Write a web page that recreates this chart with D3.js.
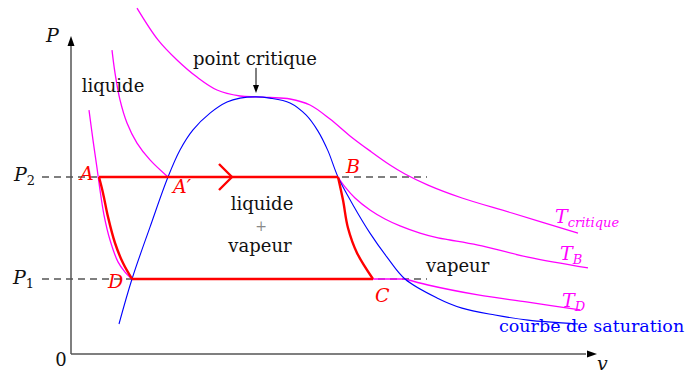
<!DOCTYPE html>
<html>
<head>
<meta charset="utf-8">
<script src="https://cdn.jsdelivr.net/npm/d3@7"></script>
<style>
  body { margin: 0; background: #fff; }
  svg { display: block; }
  text { font-family: "DejaVu Serif", serif; }
  .math { font-style: italic; }
</style>
</head>
<body>
<div id="chart"></div>
<script>
// ── données (v, P) ──
const P1 = 2.5;
const P2 = 5.9;
const critical = [3.70, 8.57];

const saturation = [
  [0.96, 1.00], [1.22, 2.50], [1.58, 4.23], [1.94, 5.90], [2.18, 6.80],
  [2.44, 7.47], [2.78, 8.03], [3.12, 8.40], [3.38, 8.53], [3.70, 8.57],
  [3.98, 8.53], [4.38, 8.37], [4.70, 7.97], [4.94, 7.43], [5.14, 6.77],
  [5.34, 5.90], [5.64, 4.97], [5.98, 4.03], [6.32, 3.23], [6.68, 2.50],
  [7.32, 1.87], [7.82, 1.53], [8.48, 1.30], [9.14, 1.13], [10.14, 1.00],
];

const tCritique = [
  [1.32, 11.53], [1.74, 10.47], [2.12, 9.80], [2.52, 9.23], [2.92, 8.80],
  [3.38, 8.60], [3.70, 8.57], [3.98, 8.55], [4.38, 8.50], [4.78, 8.30],
  [5.18, 7.83], [5.58, 7.27], [5.98, 6.77], [6.38, 6.30], [6.68, 6.00],
  [7.14, 5.63], [7.82, 5.20], [8.82, 4.70], [10.14, 4.03],
];

const tBLiquide = [
  [0.82, 10.13], [0.88, 9.37], [0.98, 8.47], [1.12, 7.70], [1.32, 7.03],
  [1.58, 6.47], [1.94, 5.90],
];
const tBVapeur = [
  [5.34, 5.90], [5.48, 5.57], [5.68, 5.20], [5.98, 4.80], [6.28, 4.50],
  [6.58, 4.27], [6.98, 4.03], [7.34, 3.87], [7.58, 3.80], [8.14, 3.63],
  [9.14, 3.23], [10.34, 2.87],
];

const tDLiquide = [
  [0.36, 8.13], [0.44, 7.13], [0.52, 6.20], [0.58, 5.47], [0.66, 4.63],
  [0.78, 3.80], [0.94, 3.07], [1.08, 2.73], [1.22, 2.50],
];
const tDVapeur = [
  [6.68, 2.50], [7.14, 2.30], [8.14, 1.97], [9.14, 1.73], [10.18, 1.47],
];

// cycle A -> B -> C -> D
const cycleAD = [
  [0.56, 5.90], [0.64, 5.37], [0.74, 4.57], [0.88, 3.70], [1.04, 3.03], [1.22, 2.50],
];
const cycleBC = [
  [5.34, 5.90], [5.44, 5.13], [5.54, 4.20], [5.72, 3.37], [6.04, 2.50],
];

const dashStart = -0.58;
const dashEnd = 7.12;

// ── dessin ──
const width = 688, height = 373;
const svg = d3.select("#chart").append("svg")
  .attr("width", width).attr("height", height);

const x = d3.scaleLinear().domain([0, 10.52]).range([71, 597]);
const y = d3.scaleLinear().domain([0, 10.6]).range([354, 36]);

const line = d3.line().x((d) => x(d[0])).y((d) => y(d[1]))
  .curve(d3.curveCatmullRom.alpha(0.5));
const straight = d3.line().x((d) => x(d[0])).y((d) => y(d[1]));

const MAGENTA = "#ff00ff", BLUE = "#0000ff", RED = "#ff0000", GREY = "#555";

// pointillés P1 / P2
[P1, P2].forEach((p) => {
  svg.append("path")
    .attr("d", straight([[dashStart, p], [dashEnd, p]]))
    .attr("fill", "none").attr("stroke", GREY)
    .attr("stroke-width", 1.3).attr("stroke-dasharray", "7,5");
});

// axes
svg.append("path").attr("d", straight([[0, 0], [0, 10.3]]))
  .attr("stroke", GREY).attr("stroke-width", 1.5);
svg.append("path").attr("d", straight([[0, 0], [10.3, 0]]))
  .attr("stroke", GREY).attr("stroke-width", 1.5);
// pointes de flèche
const tipY = [x(0), y(10.6)];
svg.append("path")
  .attr("d", `M${tipY[0]},${tipY[1]} l-3.5,10 l7,0 z`).attr("fill", "#000");
const tipX = [x(10.52), y(0)];
svg.append("path")
  .attr("d", `M${tipX[0]},${tipX[1]} l-10,-3.5 l0,7 z`).attr("fill", "#000");

// isothermes
[tCritique, tBLiquide, tBVapeur, tDLiquide, tDVapeur].forEach((pts) => {
  svg.append("path").attr("d", line(pts))
    .attr("fill", "none").attr("stroke", MAGENTA).attr("stroke-width", 1.3);
});
// paliers des isothermes
svg.append("path").attr("d", straight([tBLiquide[tBLiquide.length - 1], tBVapeur[0]]))
  .attr("stroke", MAGENTA).attr("stroke-width", 1.3);
svg.append("path").attr("d", straight([tDLiquide[tDLiquide.length - 1], tDVapeur[0]]))
  .attr("stroke", MAGENTA).attr("stroke-width", 1.3);

// courbe de saturation
svg.append("path").attr("d", line(saturation))
  .attr("fill", "none").attr("stroke", BLUE).attr("stroke-width", 1.1);

// cycle
const cyc = svg.append("g").attr("fill", "none").attr("stroke", RED)
  .attr("stroke-width", 2.4).attr("stroke-linejoin", "round");
cyc.append("path").attr("d", straight([cycleAD[0], cycleBC[0]]));
cyc.append("path").attr("d", line(cycleBC));
cyc.append("path").attr("d", straight([cycleBC[cycleBC.length - 1], cycleAD[cycleAD.length - 1]]));
cyc.append("path").attr("d", line(cycleAD));
// chevron du sens de parcours
const chev = [x(3.22), y(P2)];
cyc.append("path")
  .attr("d", `M${chev[0] - 13},${chev[1] - 13} L${chev[0]},${chev[1]} L${chev[0] - 13},${chev[1] + 13}`);

// flèche point critique
const cp = [x(critical[0]), y(critical[1])];
svg.append("path").attr("d", `M${cp[0]},${cp[1] - 29} L${cp[0]},${cp[1] - 10}`)
  .attr("stroke", "#000").attr("stroke-width", 1);
svg.append("path").attr("d", `M${cp[0]},${cp[1] - 4} l-3,-8 l6,0 z`).attr("fill", "#000");

// ── textes ──
function label(txt, px, py, opts = {}) {
  const t = svg.append("text").attr("x", px).attr("y", py)
    .attr("font-size", opts.size || 18)
    .attr("fill", opts.color || "#111")
    .attr("text-anchor", opts.anchor || "start")
    .text(txt);
  if (opts.math) t.attr("class", "math");
  return t;
}
function sub(main, s, px, py, color, subItalic) {
  const t = svg.append("text").attr("x", px).attr("y", py)
    .attr("font-size", 19).attr("fill", color);
  t.append("tspan").attr("class", "math").text(main);
  t.append("tspan").attr("dy", 4).attr("font-size", 13)
    .attr("class", subItalic ? "math" : null).text(s);
}

label("P", 46, 42, { math: true, size: 19 });
label("v", 597, 370, { math: true, size: 19 });
label("0", 61, 366, { anchor: "middle" });
sub("P", "2", 14, 181, "#111", false);
sub("P", "1", 13, 284, "#111", false);

label("point critique", 255, 65, { anchor: "middle" });
label("liquide", 113, 92, { anchor: "middle" });
label("liquide", 262, 210, { anchor: "middle" });
label("+", 261, 231, { anchor: "middle", color: "#888", size: 14 });
label("vapeur", 260, 252, { anchor: "middle" });
label("vapeur", 426, 272);

label("A", 80, 180, { math: true, color: RED, size: 19 });
label("A\u2032", 173, 193, { math: true, color: RED, size: 19 });
label("B", 346, 173, { math: true, color: RED, size: 19 });
label("C", 375, 302, { math: true, color: RED, size: 19 });
label("D", 108, 288, { math: true, color: RED, size: 19 });

sub("T", "critique", 555, 223, MAGENTA, true);
sub("T", "B", 560, 260, MAGENTA, true);
sub("T", "D", 562, 307, MAGENTA, true);

label("courbe de saturation", 499, 332, { color: BLUE, size: 17.5 });
</script>
</body>
</html>
